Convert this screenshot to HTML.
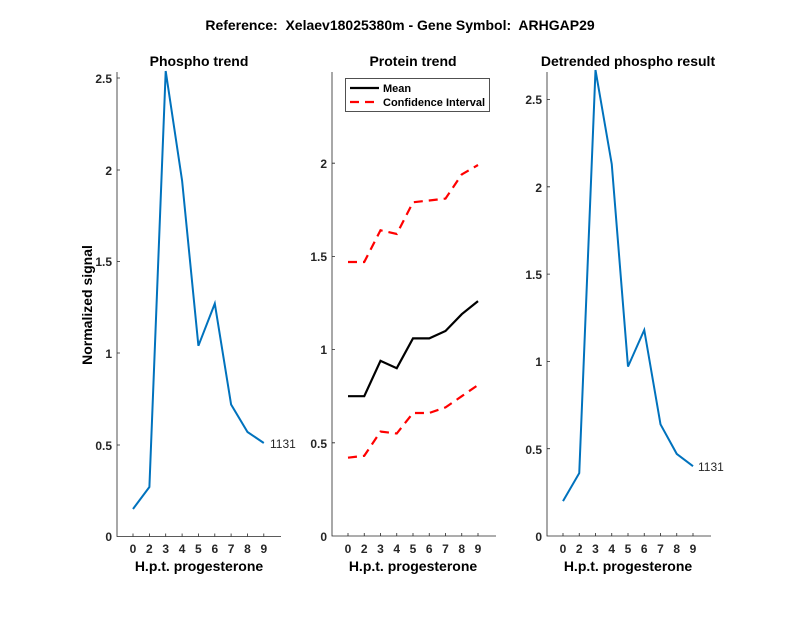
<!DOCTYPE html>
<html><head><meta charset="utf-8"><style>
body{margin:0;background:#fff}
svg{display:block;font-family:"Liberation Sans",Arial,sans-serif}
.t{font-weight:bold;font-size:14px;fill:#000;text-anchor:middle}
.tk{font-size:12px;font-weight:bold;fill:#262626}
.ax{stroke:#262626;stroke-width:0.8;fill:none}
.b{stroke:#0072BD;stroke-width:2;fill:none}
</style></head><body>
<svg width="800" height="618" viewBox="0 0 800 618">
<rect width="800" height="618" fill="#fff"/>
<text x="400" y="30" class="t" style="font-size:14px;white-space:pre" xml:space="preserve">Reference:  Xelaev18025380m - Gene Symbol:  ARHGAP29</text>

<!-- Panel 1 -->
<text x="199" y="66" class="t">Phospho trend</text>
<path class="ax" d="M117,72 V536.5 H281"/>
<g class="ax"><path d="M117,445 h3 M117,353 h3 M117,261.6 h3 M117,170 h3 M117,78 h3"/>
<path d="M133,536.5v-3 M149.4,536.5v-3 M165.7,536.5v-3 M182.1,536.5v-3 M198.4,536.5v-3 M214.8,536.5v-3 M231.1,536.5v-3 M247.5,536.5v-3 M263.8,536.5v-3"/></g>
<g class="tk" text-anchor="end"><text x="112" y="541">0</text><text x="112" y="450">0.5</text><text x="112" y="358">1</text><text x="112" y="266">1.5</text><text x="112" y="175">2</text><text x="112" y="83">2.5</text></g>
<g class="tk" text-anchor="middle"><text x="133" y="553">0</text><text x="149.4" y="553">2</text><text x="165.7" y="553">3</text><text x="182.1" y="553">4</text><text x="198.4" y="553">5</text><text x="214.8" y="553">6</text><text x="231.1" y="553">7</text><text x="247.5" y="553">8</text><text x="263.8" y="553">9</text></g>
<text x="199" y="571" class="t">H.p.t. progesterone</text>
<text transform="translate(92,305) rotate(-90)" class="t">Normalized signal</text>
<polyline class="b" points="133,509 149.4,487 165.7,71 182.1,180.7 198.4,345.8 214.8,303.6 231.1,404.5 247.5,432 263.8,443"/>
<text x="270" y="448" style="font-size:12px;fill:#262626">1131</text>

<!-- Panel 2 -->
<text x="413" y="66" class="t">Protein trend</text>
<path class="ax" d="M332,72 V536 H496"/>
<g class="ax"><path d="M332,442.8 h3 M332,349.6 h3 M332,256.4 h3 M332,163.2 h3"/>
<path d="M348,536v-3 M364.25,536v-3 M380.5,536v-3 M396.75,536v-3 M413,536v-3 M429.25,536v-3 M445.5,536v-3 M461.75,536v-3 M478,536v-3"/></g>
<g class="tk" text-anchor="end"><text x="327" y="541">0</text><text x="327" y="448">0.5</text><text x="327" y="354">1</text><text x="327" y="261">1.5</text><text x="327" y="168">2</text></g>
<g class="tk" text-anchor="middle"><text x="348" y="553">0</text><text x="364.25" y="553">2</text><text x="380.5" y="553">3</text><text x="396.75" y="553">4</text><text x="413" y="553">5</text><text x="429.25" y="553">6</text><text x="445.5" y="553">7</text><text x="461.75" y="553">8</text><text x="478" y="553">9</text></g>
<text x="413" y="571" class="t">H.p.t. progesterone</text>
<polyline fill="none" stroke="#f00" stroke-width="2.2" stroke-dasharray="9,6" points="348,262 364.25,262 380.5,230.3 396.75,234 413,202.3 429.25,200.5 445.5,198.6 461.75,174.4 478,165"/>
<polyline fill="none" stroke="#f00" stroke-width="2.2" stroke-dasharray="9,6" points="348,457.7 364.25,455.8 380.5,431.6 396.75,433.5 413,413 429.25,413 445.5,407.4 461.75,396.2 478,385"/>
<polyline fill="none" stroke="#000" stroke-width="2.2" points="348,396.2 364.25,396.2 380.5,360.8 396.75,368.2 413,338.4 429.25,338.4 445.5,331 461.75,314.2 478,301.1"/>
<rect x="345.5" y="78.5" width="144" height="33" fill="#fff" stroke="#262626" stroke-width="0.8"/>
<line x1="350" y1="88" x2="379" y2="88" stroke="#000" stroke-width="2.2"/>
<line x1="350" y1="102" x2="379" y2="102" stroke="#f00" stroke-width="2.2" stroke-dasharray="9,6"/>
<text x="383" y="92" style="font-size:11px;font-weight:bold">Mean</text>
<text x="383" y="106" style="font-size:11px;font-weight:bold">Confidence Interval</text>

<!-- Panel 3 -->
<text x="628" y="66" class="t">Detrended phospho result</text>
<path class="ax" d="M547,72 V536 H711"/>
<g class="ax"><path d="M547,448.7 h3 M547,361.4 h3 M547,274.1 h3 M547,186.8 h3 M547,99.5 h3"/>
<path d="M563,536v-3 M579.25,536v-3 M595.5,536v-3 M611.75,536v-3 M628,536v-3 M644.25,536v-3 M660.5,536v-3 M676.75,536v-3 M693,536v-3"/></g>
<g class="tk" text-anchor="end"><text x="542" y="541">0</text><text x="542" y="454">0.5</text><text x="542" y="366">1</text><text x="542" y="279">1.5</text><text x="542" y="192">2</text><text x="542" y="104">2.5</text></g>
<g class="tk" text-anchor="middle"><text x="563" y="553">0</text><text x="579.25" y="553">2</text><text x="595.5" y="553">3</text><text x="611.75" y="553">4</text><text x="628" y="553">5</text><text x="644.25" y="553">6</text><text x="660.5" y="553">7</text><text x="676.75" y="553">8</text><text x="693" y="553">9</text></g>
<text x="628" y="571" class="t">H.p.t. progesterone</text>
<polyline class="b" points="563,501.1 579.25,473.1 595.5,70 611.75,164.1 628,366.6 644.25,330 660.5,424.3 676.75,453.9 693,466.2"/>
<text x="698" y="471" style="font-size:12px;fill:#262626">1131</text>
</svg>
</body></html>
